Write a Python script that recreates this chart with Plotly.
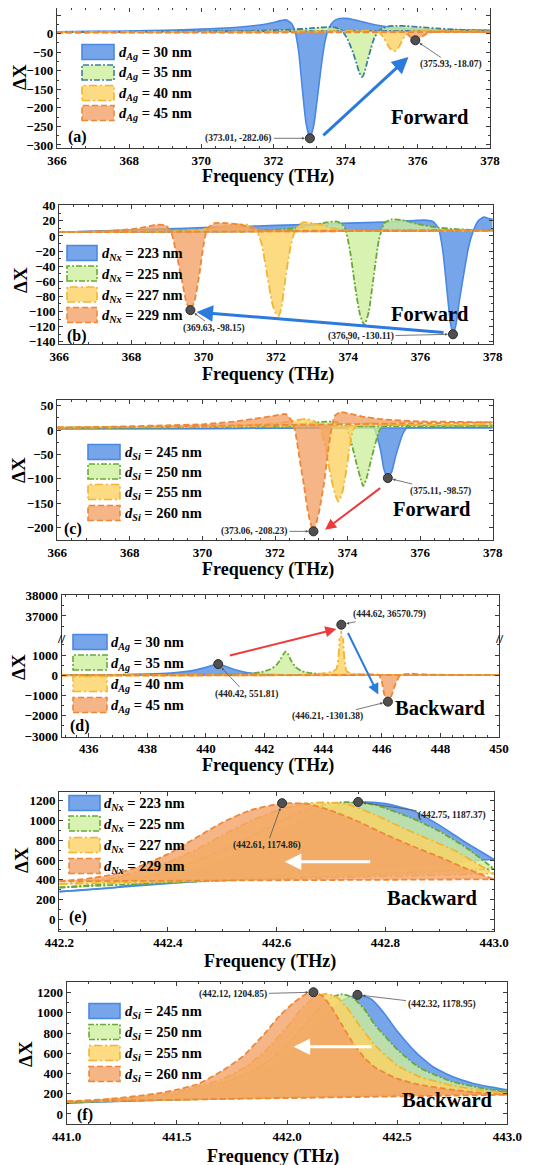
import plotly.graph_objects as go

# page body has an 8px margin, so the figure is placed 8px right/down in the window
OX, OY = 8, 8
W, H = 533 - OX, 1165 - OY
SERIF = "Liberation Serif, Times New Roman, serif"

# ======================= DATA =======================
# ---- (a) Forward, d_Ag ----
a_x_30 = [366, 367, 368, 369, 370, 370.5, 371, 371.5, 371.8, 372.0, 372.2, 372.35, 372.5, 372.6, 372.7, 372.8, 372.9, 373.01, 373.12, 373.22, 373.32, 373.42, 373.52, 373.65, 373.8, 374.0, 374.2, 374.5, 374.8, 375.2, 375.6, 376.2, 377.0, 378.0]
a_y_30 = [5, 6, 7, 9, 12, 14, 17, 22, 26, 30, 35, 37, 27, 5, -50, -150, -240, -282.06, -245, -170, -90, -25, 12, 32, 40, 41, 38, 31, 24, 18, 14, 11, 9, 8]
a_x_35 = [366, 368, 370, 371, 372, 372.5, 373.0, 373.4, 373.7, 373.9, 374.05, 374.2, 374.3, 374.38, 374.45, 374.52, 374.6, 374.7, 374.8, 374.95, 375.15, 375.4, 375.7, 376.0, 376.5, 377.0, 377.5, 378.0]
a_y_35 = [4, 5, 6, 7, 9, 11, 14, 17, 17, 8, -15, -50, -80, -105, -117, -105, -75, -40, -10, 10, 19, 21, 20, 18, 14, 11, 9, 8]
a_x_40 = [366, 368, 370, 372, 373, 374, 374.6, 374.9, 375.05, 375.15, 375.25, 375.35, 375.45, 375.55, 375.65, 375.8, 376.0, 376.5, 377, 378]
a_y_40 = [4, 4, 5, 5, 6, 7, 8, 5, -10, -28, -42, -48, -40, -22, -5, 5, 8, 8, 7, 6]
a_x_45 = [366, 368, 370, 372, 374, 375, 375.5, 375.65, 375.75, 375.85, 375.93, 376.02, 376.12, 376.25, 376.4, 376.6, 377, 378]
a_y_45 = [3, 3, 3, 3, 4, 4, 5, 3, -5, -14, -18.07, -15, -8, 0, 4, 5, 5, 4]

# ---- (b) Forward, d_Nx ----
b_x_223 = [366, 367, 368, 369, 370, 371, 372, 373, 374, 375, 375.6, 376.1, 376.35, 376.5, 376.62, 376.73, 376.83, 376.9, 376.98, 377.08, 377.2, 377.33, 377.45, 377.6, 377.75, 377.9, 378]
b_y_223 = [5, 6.5, 8, 9.5, 11, 12.5, 14, 15.5, 17, 18.5, 20, 21, 19, 10, -20, -70, -115, -130.11, -118, -85, -50, -15, 5, 20, 25, 23, 22]
b_x_225 = [366, 368, 370, 371.5, 372.5, 373.0, 373.4, 373.7, 373.9, 374.05, 374.2, 374.33, 374.45, 374.57, 374.7, 374.85, 375.0, 375.2, 375.5, 375.9, 376.5, 377, 377.5, 378]
b_y_225 = [5, 6, 6, 7, 10, 14, 18, 19, 12, -20, -70, -105, -118, -100, -55, -5, 17, 22, 21, 16, 11, 9, 8, 8]
b_x_227 = [366, 368, 369, 369.8, 370.3, 370.8, 371.2, 371.45, 371.6, 371.75, 371.9, 372.0, 372.07, 372.15, 372.25, 372.4, 372.55, 372.75, 373.0, 373.3, 373.7, 374.2, 376, 378]
b_y_227 = [5, 6, 6, 8, 11, 15, 15, 8, -10, -50, -90, -103, -106, -95, -60, -15, 10, 18, 17, 14, 9, 7, 7, 7]
b_x_229 = [366, 367, 367.5, 368, 368.4, 368.7, 368.95, 369.1, 369.25, 369.4, 369.52, 369.63, 369.75, 369.88, 370.0, 370.1, 370.3, 370.6, 371.0, 371.3, 371.6, 372, 374, 376, 378]
b_y_229 = [5, 6, 7, 9, 12, 15, 14, 5, -25, -60, -88, -98.15, -85, -50, -10, 10, 17, 17, 15, 11, 8, 7, 7, 7, 7]
b_base_223 = [5, 7]

# ---- (c) Forward, d_Si ----
c_x_245 = [366, 368, 370, 372, 373, 374, 374.5, 374.72, 374.82, 374.92, 375.0, 375.11, 375.22, 375.32, 375.42, 375.52, 375.62, 376, 377, 378]
c_y_245 = [3, 3, 3, 4, 4, 5, 6, 5, -15, -45, -80, -98.57, -85, -55, -30, -8, 4, 5, 5, 5]
c_x_250 = [366, 368, 370, 371, 372, 372.8, 373.3, 373.7, 373.95, 374.1, 374.25, 374.36, 374.43, 374.52, 374.62, 374.74, 374.88, 375.0, 375.3, 376, 377, 378]
c_y_250 = [5, 5, 6, 7, 9, 13, 17, 17, 8, -25, -70, -100, -115, -100, -70, -35, 0, 10, 11, 10, 9, 9]
c_x_255 = [366, 368, 370, 371, 372, 372.5, 372.85, 373.1, 373.25, 373.4, 373.55, 373.67, 373.75, 373.85, 373.95, 374.05, 374.15, 374.3, 374.6, 375, 376, 377, 378]
c_y_255 = [5, 6, 8, 10, 14, 19, 23, 18, 5, -40, -100, -135, -147, -130, -90, -40, 0, 12, 14, 13, 11, 11, 12]
c_x_260 = [366, 367, 368, 369, 370, 370.8, 371.5, 372.0, 372.3, 372.45, 372.55, 372.7, 372.8, 372.92, 373.06, 373.2, 373.35, 373.45, 373.55, 373.65, 373.8, 374.0, 374.4, 375, 376, 377, 378]
c_y_260 = [5, 6, 8, 10, 12, 17, 24, 30, 33, 20, 0, -70, -115, -173, -208.23, -173, -110, -50, 0, 30, 37, 35, 28, 22, 18, 17, 16]

# ---- (d) Backward, d_Ag (broken y axis) ----
d_x_30 = [435.08, 436, 437, 438, 438.8, 439.3, 439.7, 440.0, 440.2, 440.42, 440.6, 440.8, 441.0, 441.3, 441.6, 442, 442.5, 443, 444, 446, 448, 450]
d_y_30 = [10, 15, 30, 60, 110, 180, 280, 390, 480, 551.81, 480, 370, 270, 160, 100, 60, 35, 20, 10, 5, 3, 2]
d_x_35 = [435.08, 438, 440, 441, 441.5, 441.9, 442.2, 442.4, 442.55, 442.65, 442.72, 442.8, 442.9, 443.05, 443.25, 443.5, 444, 445, 447, 450]
d_y_35 = [5, 10, 20, 40, 80, 160, 300, 500, 800, 1050, 1180, 1050, 750, 420, 220, 120, 60, 30, 15, 10]
d_x_40 = [435.08, 438, 441, 443, 443.8, 444.2, 444.45, 444.55, 444.6, 444.62, 444.64, 444.69, 444.8, 445, 445.5, 446.5, 448, 450]
d_y_40 = [0, 2, 5, 20, 60, 150, 300, 1500, 15000, 36570.79, 15000, 1500, 200, 80, 30, 20, 10, 5]
d_x_45 = [435.08, 440, 443, 445, 445.6, 445.9, 446.0, 446.08, 446.21, 446.33, 446.45, 446.6, 446.75, 447.0, 447.5, 448.5, 450]
d_y_45 = [0, 0, 5, 20, 40, 20, -300, -900, -1301.38, -1000, -500, -50, 40, 80, 40, 20, 10]

# ---- (e) Backward, d_Nx ----
e_x_223 = [442.2, 442.3, 442.4, 442.5, 442.55, 442.6, 442.65, 442.7, 442.75, 442.8, 442.85, 442.9, 442.95, 443.0]
e_y_223 = [280, 320, 410, 580, 720, 860, 1010, 1130, 1187.37, 1170, 1100, 950, 770, 607]
e_x_225 = [442.2, 442.3, 442.4, 442.5, 442.55, 442.6, 442.65, 442.7, 442.73, 442.78, 442.85, 442.9, 442.95, 443.0]
e_y_225 = [322, 370, 480, 700, 830, 970, 1100, 1175, 1185, 1160, 1020, 890, 720, 510]
e_x_227 = [442.2, 442.3, 442.4, 442.45, 442.5, 442.55, 442.6, 442.65, 442.69, 442.73, 442.78, 442.83, 442.88, 442.93, 442.97, 443.0]
e_y_227 = [355, 420, 580, 700, 850, 990, 1100, 1170, 1182, 1165, 1060, 930, 810, 690, 560, 462]
e_x_229 = [442.2, 442.25, 442.3, 442.35, 442.4, 442.45, 442.5, 442.55, 442.61, 442.66, 442.7, 442.75, 442.8, 442.85, 442.9, 442.95, 443.0]
e_y_229 = [385, 410, 455, 540, 660, 820, 980, 1100, 1174.86, 1165, 1100, 990, 860, 740, 630, 510, 405]

# ---- (f) Backward, d_Si ----
f_x_245 = [441.0, 441.3, 441.5, 441.7, 441.85, 442.0, 442.1, 442.18, 442.25, 442.32, 442.38, 442.44, 442.5, 442.58, 442.66, 442.75, 442.85, 443.0]
f_y_245 = [110, 140, 180, 260, 360, 560, 780, 980, 1120, 1178.95, 1140, 1000, 820, 620, 470, 370, 300, 240]
f_x_250 = [441.0, 441.3, 441.5, 441.7, 441.85, 441.95, 442.05, 442.13, 442.2, 442.25, 442.3, 442.35, 442.4, 442.5, 442.6, 442.75, 442.9, 443.0]
f_y_250 = [115, 150, 200, 300, 430, 580, 800, 1010, 1150, 1185, 1150, 1040, 880, 640, 460, 320, 250, 220]
f_x_255 = [441.0, 441.3, 441.5, 441.7, 441.8, 441.9, 442.0, 442.07, 442.13, 442.18, 442.23, 442.28, 442.33, 442.4, 442.5, 442.6, 442.75, 442.9, 443.0]
f_y_255 = [120, 160, 220, 340, 450, 620, 860, 1050, 1160, 1190, 1150, 1030, 870, 680, 480, 370, 280, 230, 205]
f_x_260 = [441.0, 441.2, 441.4, 441.5, 441.6, 441.7, 441.8, 441.9, 441.97, 442.03, 442.08, 442.12, 442.16, 442.2, 442.25, 442.3, 442.35, 442.4, 442.5, 442.6, 442.75, 442.9, 443.0]
f_y_260 = [125, 150, 200, 240, 300, 420, 570, 800, 980, 1100, 1180, 1204.85, 1170, 1060, 880, 700, 560, 460, 350, 290, 240, 205, 190]

# ---- marked points and their labels ----
a_pts_x = [373.01, 375.93]; a_pts_y = [-282.06, -18.07]
a_pts_lbl = ["(373.01, -282.06)", "(375.93, -18.07)"]
b_pts_x = [369.63, 376.90]; b_pts_y = [-98.15, -130.11]
b_pts_lbl = ["(369.63, -98.15)", "(376,90, -130.11)"]
c_pts_x = [373.06, 375.11]; c_pts_y = [-208.23, -98.57]
c_pts_lbl = ["(373.06, -208.23)", "(375.11, -98.57)"]
d_pts_x = [440.42, 446.21]; d_pts_y = [551.81, -1301.38]
d_pts_lbl = ["(440.42, 551.81)", "(446.21, -1301.38)"]
d_top_x = [444.62]; d_top_y = [36570.79]
d_top_lbl = ["(444.62, 36570.79)"]
e_pts_x = [442.61, 442.75]; e_pts_y = [1174.86, 1187.37]
e_pts_lbl = ["(442.61, 1174.86)", "(442.75, 1187.37)"]
f_pts_x = [442.12, 442.32]; f_pts_y = [1204.85, 1178.95]
f_pts_lbl = ["(442.12, 1204.85)", "(442.32, 1178.95)"]

ag_vals = ["30", "35", "40", "45"]
nx_vals = ["223", "225", "227", "229"]
si_vals = ["245", "250", "255", "260"]

# ======================= STYLES =======================
BLUE = dict(line="#4a89e3", fill="rgba(84,142,228,0.80)", dash="solid")
GREEN = dict(line="#6aa83a", fill="rgba(205,238,155,0.78)", dash="6px,2px,2px,2px")
GREEN_A = dict(line="#3d7f9e", fill="rgba(205,238,155,0.78)", dash="6px,2px,2px,2px")
YELLOW = dict(line="#f4b531", fill="rgba(253,210,100,0.80)", dash="8px,3px,2px,3px")
ORANGE = dict(line="#ee8838", fill="rgba(242,160,100,0.78)", dash="6px,3px")

def sub_label(sym, v):
    return "<i>d</i><sub><i>%s</i></sub> = %s nm" % (sym, v)

panels = [
    dict(n=1, xs=[a_x_30, a_x_35, a_x_40, a_x_45], ys=[a_y_30, a_y_35, a_y_40, a_y_45],
         bases=[None, None, None, None], styles=[BLUE, GREEN_A, YELLOW, ORANGE],
         labels=[sub_label("Ag", v) for v in ag_vals],
         box=(57, 490, 8, 148.3), xr=[366, 378], yr=[-309, 69], xdt=2, xmn=0.4, ydt=50, ymn=25, xfmt="",
         pts=(a_pts_x, a_pts_y, a_pts_lbl, [(-71, 0), (36, 24)]),
         leg=(82, 114, 117, [52, 72.5, 93, 113]),
         word=("Forward", 430, 117), tag=("(a)", 77, 137), ytitle=(20, 77), xtitle=(268, 176)),
    dict(n=2, xs=[b_x_223, b_x_225, b_x_227, b_x_229], ys=[b_y_223, b_y_225, b_y_227, b_y_229],
         bases=[b_base_223, None, None, None], styles=[BLUE, GREEN, YELLOW, ORANGE],
         labels=[sub_label("Nx", v) for v in nx_vals],
         box=(59.3, 492.7, 205, 344), xr=[366, 378], yr=[-143, 41], xdt=2, xmn=0.4, ydt=20, ymn=10, xfmt="",
         pts=(b_pts_x, b_pts_y, b_pts_lbl, [(24, 18), (-92, 2)]),
         leg=(67, 97, 100, [253, 273.5, 294.5, 315]),
         word=("Forward", 430, 314), tag=("(b)", 77, 336), ytitle=(20, 280), xtitle=(268, 374)),
    dict(n=3, xs=[c_x_245, c_x_250, c_x_255, c_x_260], ys=[c_y_245, c_y_250, c_y_255, c_y_260],
         bases=[None, None, None, None], styles=[BLUE, GREEN, YELLOW, ORANGE],
         labels=[sub_label("Si", v) for v in si_vals],
         box=(57.3, 492.7, 400, 540), xr=[366, 378], yr=[-226, 62], xdt=2, xmn=0.4, ydt=50, ymn=25, xfmt="",
         pts=(c_pts_x, c_pts_y, c_pts_lbl, [(-59, 0), (53, 13)]),
         leg=(88, 120, 123, [452, 471.5, 492, 513]),
         word=("Forward", 432, 509), tag=("(c)", 73, 529), ytitle=(18, 470), xtitle=(268, 569)),
    dict(n=4, xs=[d_x_30, d_x_35, d_x_40, d_x_45], ys=[d_y_30, d_y_35, d_y_40, d_y_45],
         bases=[None, None, None, None], styles=[BLUE, GREEN, YELLOW, ORANGE],
         labels=[sub_label("Ag", v) for v in ag_vals],
         box=(61.7, 499, 638.3, 736.7), xr=[435.08, 450], yr=[-3030, 1825], xdt=2, xmn=0.4, ydt=1000, ymn=500, xfmt="",
         pts=(d_pts_x, d_pts_y, d_pts_lbl, [(28, 30), (-60, 15)]),
         leg=(73, 107, 109, [642, 662.5, 684, 705]),
         word=("Backward", 440, 708), tag=("(d)", 80, 726), ytitle=(18, 667), xtitle=(268, 765)),
    dict(n=5, xs=[e_x_223, e_x_225, e_x_227, e_x_229], ys=[e_y_223, e_y_225, e_y_227, e_y_229],
         bases=[None, None, None, None], styles=[BLUE, GREEN, YELLOW, ORANGE],
         labels=[sub_label("Nx", v) for v in nx_vals],
         box=(59.3, 494, 791.7, 930.7), xr=[442.2, 443.0], yr=[-115, 1291], xdt=0.2, xmn=0.05, ydt=200, ymn=100, xfmt=".1f",
         pts=(e_pts_x, e_pts_y, e_pts_lbl, [(-15, 42), (94, 14)]),
         leg=(69, 100, 102, [803, 823.5, 845, 866]),
         word=("Backward", 432, 898), tag=("(e)", 78, 917), ytitle=(21, 860), xtitle=(270, 961)),
    dict(n=6, xs=[f_x_245, f_x_250, f_x_255, f_x_260], ys=[f_y_245, f_y_250, f_y_255, f_y_260],
         bases=[None, None, None, None], styles=[BLUE, GREEN, YELLOW, ORANGE],
         labels=[sub_label("Si", v) for v in si_vals],
         box=(66.7, 507.3, 981.7, 1124.3), xr=[441.0, 443.0], yr=[-102, 1309], xdt=0.5, xmn=0.1, ydt=200, ymn=100, xfmt=".1f",
         pts=(f_pts_x, f_pts_y, f_pts_lbl, [(-80, 2), (84, 10)]),
         leg=(89, 120, 123, [1011, 1032, 1053, 1074]),
         word=("Backward", 447, 1100), tag=("(f)", 85, 1115), ytitle=(25, 1054), xtitle=(273, 1156)),
]

# big arrows: (panel, tail x, tail y, head x, head y, colour, width)
big_arrows = [
    (1, 373.34, -278, 375.74, -63, "#2b7ade", 3),
    (2, 376.68, -128, 369.80, -100.7, "#2b7ade", 3),
    (3, 374.94, -117, 373.38, -205, "#ee3a3a", 2),
    (5, 442.775, 583, 442.615, 583, "white", 3),
    (6, 442.39, 665, 442.03, 665, "white", 3),
]

fig = go.Figure()

def fx(px):
    return (px - OX) / W

def fy(py):
    return 1 - (py - OY) / H

def add_series(p, xa, ya):
    for xs, ys, base, st in zip(p["xs"], p["ys"], p["bases"], p["styles"]):
        b = base if base is not None else [ys[0], ys[-1]]
        lw = 1.6 if st["dash"] == "solid" else 1.8
        fig.add_trace(go.Scatter(x=[xs[0], xs[-1]], y=b, mode="lines", xaxis=xa, yaxis=ya,
                                 line=dict(color=st["line"], width=lw, dash=st["dash"]),
                                 showlegend=False, hoverinfo="skip"))
        fig.add_trace(go.Scatter(x=xs, y=ys, mode="lines", xaxis=xa, yaxis=ya, fill="tonexty",
                                 fillcolor=st["fill"],
                                 line=dict(color=st["line"], width=lw, dash=st["dash"], shape="spline", smoothing=0.5),
                                 showlegend=False, hoverinfo="skip"))

def paper_text(px, py, text, size, **kw):
    d = dict(x=fx(px), y=fy(py), xref="paper", yref="paper", text=text, showarrow=False,
             xanchor="center", yanchor="middle",
             font=dict(family=SERIF, size=size, color="black", weight="bold"))
    d.update(kw)
    return d

layout_axes = {}
annotations = []
shapes = []

tick_font = dict(family=SERIF, size=13, color="black", weight="bold")
LC = "#3a3a3a"

for p in panels:
    n = p["n"]
    l, r, t, b = p["box"]
    xa, ya = "x%d" % n, "y%d" % n
    add_series(p, xa, ya)
    px_, py_, plbl, offs = p["pts"]
    fig.add_trace(go.Scatter(x=px_, y=py_, mode="markers", xaxis=xa, yaxis=ya,
                             marker=dict(size=9, color="#505050", line=dict(color="#2a2a2a", width=1)),
                             showlegend=False, hoverinfo="skip"))
    for xv, yv, lbl, (ox, oy) in zip(px_, py_, plbl, offs):
        annotations.append(dict(x=xv, y=yv, xref=xa, yref=ya, text=lbl, showarrow=True,
                                ax=ox, ay=oy, arrowhead=2, arrowsize=0.7, arrowwidth=0.8,
                                arrowcolor="#555555", standoff=5,
                                font=dict(family=SERIF, size=9.5, color="#222222", weight="bold")))
    xaxis = dict(domain=[fx(l), fx(r)], anchor=ya, range=p["xr"], dtick=p["xdt"],
                 tick0=436 if n == 4 else p["xr"][0], automargin=False,
                 showline=True, linecolor=LC, linewidth=1.3, mirror="ticks" if n != 4 else False,
                 ticks="inside", ticklen=4, tickcolor=LC, showgrid=False, zeroline=False,
                 tickfont=tick_font, tickformat=p["xfmt"],
                 minor=dict(ticks="inside", ticklen=2, tickcolor=LC, dtick=p["xmn"], showgrid=False))
    yaxis = dict(domain=[fy(b), fy(t)], anchor=xa, range=p["yr"], dtick=p["ydt"], tick0=0, automargin=False,
                 showline=True, linecolor=LC, linewidth=1.3, mirror="ticks", tickformat="d",
                 ticks="inside", ticklen=4, tickcolor=LC, showgrid=False, zeroline=False,
                 tickfont=tick_font,
                 minor=dict(ticks="inside", ticklen=2, tickcolor=LC, dtick=p["ymn"], showgrid=False))
    layout_axes["xaxis%d" % n] = xaxis
    layout_axes["yaxis%d" % n] = yaxis

    # legend (drawn manually as boxes + text)
    sx0, sx1, tx, rows = p["leg"]
    for yc, st, lab in zip(rows, p["styles"], p["labels"]):
        shapes.append(dict(type="rect", xref="paper", yref="paper", x0=fx(sx0), x1=fx(sx1),
                           y0=fy(yc + 7.5), y1=fy(yc - 7.5), fillcolor=st["fill"], layer="above",
                           line=dict(color=st["line"], width=1.6, dash=st["dash"])))
        annotations.append(paper_text(tx, yc + 1, lab, 14.5, xanchor="left"))
    wtxt, wx, wy = p["word"]
    annotations.append(paper_text(wx, wy, wtxt, 20.5))
    ttxt, tx_, ty_ = p["tag"]
    annotations.append(paper_text(tx_, ty_, ttxt, 16))
    yx, yy = p["ytitle"]
    annotations.append(paper_text(yx, yy, "ΔX", 19, textangle=-90))
    xx, xy = p["xtitle"]
    annotations.append(paper_text(xx, xy, "Frequency (THz)", 18))

# upper part of the broken axis in (d)
pd_ = panels[3]
add_series(pd_, "x7", "y7")
fig.add_trace(go.Scatter(x=d_top_x, y=d_top_y, mode="markers", xaxis="x7", yaxis="y7",
                         marker=dict(size=9, color="#505050", line=dict(color="#2a2a2a", width=1)),
                         showlegend=False, hoverinfo="skip"))
annotations.append(dict(x=d_top_x[0], y=d_top_y[0], xref="x7", yref="y7", text=d_top_lbl[0], showarrow=True,
                        ax=48, ay=-10, arrowhead=2, arrowsize=0.7, arrowwidth=0.8, arrowcolor="#555555",
                        standoff=5, font=dict(family=SERIF, size=9.5, color="#222222", weight="bold")))
layout_axes["xaxis7"] = dict(domain=layout_axes["xaxis4"]["domain"], anchor="y7", range=pd_["xr"], side="top",
                             dtick=2, tick0=436, showticklabels=False, showline=True, linecolor=LC, linewidth=1.3,
                             mirror=False, ticks="inside", ticklen=4, tickcolor=LC, showgrid=False, zeroline=False,
                             automargin=False,
                             minor=dict(ticks="inside", ticklen=2, tickcolor=LC, dtick=0.4, showgrid=False))
layout_axes["yaxis7"] = dict(domain=[fy(638.3), fy(595)], anchor="x7", range=[35900, 38035],
                             tickvals=[37000, 38000], ticktext=["37000", "38000"], automargin=False,
                             showline=True, linecolor=LC, linewidth=1.3, mirror="ticks",
                             ticks="inside", ticklen=4, tickcolor=LC, showgrid=False, zeroline=False,
                             tickfont=tick_font,
                             minor=dict(ticks="inside", ticklen=2, tickcolor=LC, tickvals=[36500, 37500], showgrid=False))
# break marks
for bx in (61.7, 499):
    annotations.append(paper_text(bx, 638.3, "//", 13))

# big arrows
for (n, tx0, ty0, hx, hy, col, w) in big_arrows:
    annotations.append(dict(x=hx, y=hy, ax=tx0, ay=ty0, xref="x%d" % n, yref="y%d" % n,
                            axref="x%d" % n, ayref="y%d" % n, text="", showarrow=True,
                            arrowhead=2, arrowsize=1.1, arrowwidth=w, arrowcolor=col))
# arrows of (d) across the axis break (tail offsets in pixels)
annotations.append(dict(x=444.45, y=36360, xref="x7", yref="y7", ax=-108, ay=27, text="", showarrow=True,
                        arrowhead=2, arrowsize=1.1, arrowwidth=2, arrowcolor="#ee3a3a"))
annotations.append(dict(x=445.88, y=-950, xref="x4", yref="y4", ax=-31, ay=-63, text="", showarrow=True,
                        arrowhead=2, arrowsize=1.1, arrowwidth=2, arrowcolor="#2b7ade"))

fig.update_layout(width=W, height=H, margin=dict(l=0, r=0, t=0, b=0, autoexpand=False),
                  paper_bgcolor="white", plot_bgcolor="white", showlegend=False,
                  annotations=annotations, shapes=shapes, **layout_axes)

fig.write_html("out.html")
